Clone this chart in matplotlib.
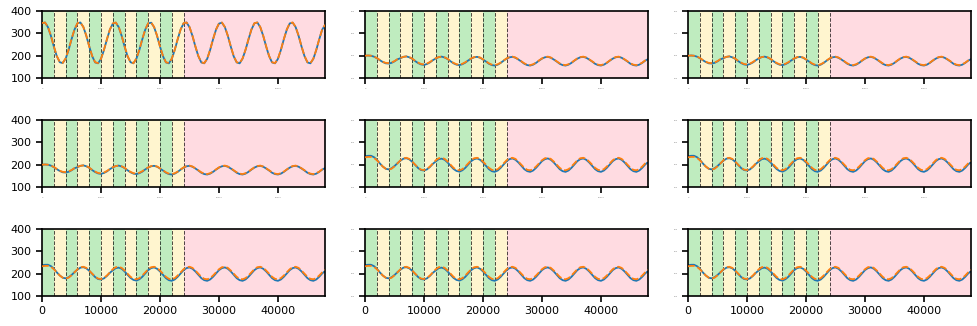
import numpy as np
import matplotlib
matplotlib.use("Agg")
import matplotlib.pyplot as plt

# sample positions (every 500 steps, 0 .. 48000)
steps = np.arange(0, 48001, 500)

# values, one row per ~6000-step cycle
wave_a_blue = [
    345, 349, 328, 289, 241, 198, 171, 167, 187, 226, 274, 317,
    345, 349, 329, 290, 242, 198, 170, 166, 186, 226, 273, 317,
    344, 348, 328, 289, 241, 197, 171, 166, 187, 226, 274, 317,
    345, 348, 328, 289, 241, 198, 170, 166, 186, 226, 274, 318,
    345, 349, 328, 289, 241, 198, 170, 166, 186, 226, 274, 317,
    344, 348, 328, 289, 241, 197, 170, 166, 187, 226, 273, 317,
    345, 349, 328, 289, 241, 198, 170, 166, 186, 226, 274, 317,
    345, 348, 328, 289, 241, 198, 170, 166, 186, 226, 274, 317,
    338,
]
wave_a_orange = [
    346, 349, 329, 290, 242, 199, 172, 168, 188, 227, 275, 318,
    346, 349, 329, 290, 242, 199, 171, 167, 187, 227, 274, 318,
    345, 349, 329, 290, 242, 198, 172, 167, 188, 227, 275, 318,
    346, 349, 329, 290, 242, 199, 171, 167, 187, 227, 275, 318,
    346, 349, 329, 290, 242, 199, 171, 167, 187, 227, 275, 318,
    345, 349, 329, 290, 242, 198, 171, 167, 188, 227, 274, 318,
    346, 349, 329, 290, 242, 199, 171, 167, 187, 227, 275, 318,
    346, 349, 329, 290, 242, 199, 171, 167, 187, 227, 275, 318,
    339,
]
wave_b_blue = [
    200, 201, 200, 196, 189, 180, 172, 166, 165, 168, 175, 184,
    189, 195, 197, 193, 186, 176, 167, 161, 159, 163, 170, 180,
    188, 194, 196, 192, 185, 175, 166, 160, 158, 162, 169, 179,
    187, 193, 195, 191, 183, 174, 164, 158, 156, 160, 168, 178,
    187, 193, 195, 191, 183, 174, 164, 158, 156, 160, 168, 178,
    187, 193, 195, 191, 183, 174, 164, 158, 156, 160, 168, 178,
    187, 193, 195, 191, 183, 174, 164, 158, 156, 160, 168, 178,
    187, 193, 195, 191, 183, 174, 164, 158, 156, 160, 168, 178,
    185,
]
wave_b_orange = [
    200, 201, 200, 196, 190, 181, 173, 168, 167, 170, 176, 185,
    190, 195, 197, 194, 187, 177, 169, 163, 161, 165, 172, 181,
    189, 194, 196, 193, 186, 176, 168, 162, 160, 164, 171, 180,
    188, 194, 196, 192, 184, 175, 166, 160, 158, 162, 169, 179,
    188, 194, 196, 192, 184, 175, 166, 160, 158, 162, 169, 179,
    188, 194, 196, 192, 184, 175, 166, 160, 158, 162, 169, 179,
    188, 194, 196, 192, 184, 175, 166, 160, 158, 162, 169, 179,
    188, 194, 196, 192, 184, 175, 166, 160, 158, 162, 169, 179,
    186,
]
wave_c_blue = [
    238, 240, 240, 234, 222, 206, 192, 182, 179, 184, 194, 207,
    218, 227, 229, 224, 213, 199, 185, 176, 174, 179, 190, 204,
    215, 225, 227, 222, 210, 195, 181, 172, 169, 175, 186, 201,
    216, 225, 228, 222, 210, 195, 180, 171, 168, 174, 186, 201,
    216, 225, 228, 222, 210, 195, 180, 171, 168, 174, 186, 201,
    216, 225, 228, 222, 210, 195, 180, 171, 168, 174, 186, 201,
    216, 225, 228, 222, 210, 195, 180, 171, 168, 174, 186, 201,
    216, 225, 228, 222, 210, 195, 180, 171, 168, 174, 186, 201,
    212,
]
wave_c_orange = [
    233, 235, 235, 231, 220, 206, 192, 182, 178, 182, 193, 206,
    220, 229, 231, 226, 214, 200, 187, 178, 176, 181, 192, 206,
    220, 229, 231, 226, 214, 200, 186, 177, 175, 180, 192, 206,
    220, 229, 231, 226, 214, 200, 186, 177, 175, 180, 192, 206,
    220, 229, 231, 226, 214, 200, 186, 177, 175, 180, 192, 206,
    220, 229, 231, 226, 214, 200, 186, 177, 175, 180, 192, 206,
    220, 229, 231, 226, 214, 200, 186, 177, 175, 180, 192, 206,
    220, 229, 231, 226, 214, 200, 186, 177, 175, 180, 192, 206,
    216,
]

# which wave goes in which panel (row by row)
panel_waves = [
    (wave_a_blue, wave_a_orange), (wave_b_blue, wave_b_orange), (wave_b_blue, wave_b_orange),
    (wave_b_blue, wave_b_orange), (wave_c_blue, wave_c_orange), (wave_c_blue, wave_c_orange),
    (wave_c_blue, wave_c_orange), (wave_c_blue, wave_c_orange), (wave_c_blue, wave_c_orange),
]

# shaded phases: alternating 2000-step bands up to 24000, then one long band
band_edges = [0, 2000, 4000, 6000, 8000, 10000, 12000, 14000, 16000, 18000, 20000, 22000, 24000]
band_colors = ["#bfecbf", "#fff5cf"]
tail_band = (24000, 48000)
tail_color = "#ffdbe1"

fig, axes = plt.subplots(3, 3, figsize=(9.78, 3.26), dpi=100, sharex=True, sharey=True)
fig.subplots_adjust(left=0.043, right=0.993, top=0.966, bottom=0.092, wspace=0.141, hspace=0.627)

for i, ax in enumerate(axes.flat):
    blue, orange = panel_waves[i]
    for j in range(len(band_edges) - 1):
        ax.axvspan(band_edges[j], band_edges[j + 1], color=band_colors[j % 2], lw=0, zorder=0)
    ax.axvspan(tail_band[0], tail_band[1], color=tail_color, lw=0, zorder=0)
    for edge in band_edges[1:]:
        ax.axvline(edge, color="k", ls="--", lw=0.7, alpha=0.7, zorder=1)

    ax.plot(steps, blue, color="tab:blue", lw=1.3, zorder=2)
    ax.plot(steps, orange, color="tab:orange", lw=1.3, ls="--", zorder=3)

    ax.set_xlim(0, 48000)
    ax.set_ylim(100, 400)
    ax.set_yticks([100, 200, 300, 400])
    ax.set_xticks([0, 10000, 20000, 30000, 40000])
    for s in ax.spines.values():
        s.set_linewidth(1.2)
    ax.tick_params(width=1.2, length=4, labelsize=8)

    row, col = divmod(i, 3)
    # inner panels keep their labels but at a tiny size
    if row < 2:
        ax.tick_params(axis="x", labelsize=1.5, labelcolor="grey", labelbottom=True)
    if col > 0:
        ax.tick_params(axis="y", labelsize=1.5, labelcolor="grey", labelleft=True)

fig.savefig("out.png", dpi=100)
